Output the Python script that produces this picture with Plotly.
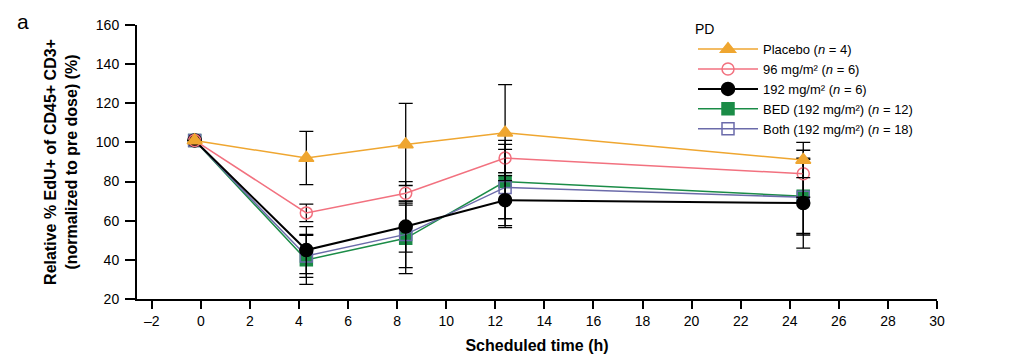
import plotly.graph_objects as go

# Data
time_h = [-0.25, 4.3, 8.35, 12.4, 24.55]
placebo = [101, 92, 99, 105, 91]
placebo_err = [0, 13.6, 21, 24.5, 9]
dose96 = [101, 64, 74, 92, 84]
dose96_err = [0, 4.5, 6, 9, 12]
dose192 = [101, 45, 57, 70.5, 69]
dose192_err = [0, 12, 13, 14, 23]
bed = [101, 40, 51, 80, 72.5]
bed_err = [0, 12.5, 18, 19, 19]
both = [101, 42, 53, 77, 72]
both_err = [0, 11, 17, 19.5, 19.3]

x_ticks = list(range(-2, 31, 2))
x_tick_labels = [("\u2013" + str(-v)) if v < 0 else str(v) for v in x_ticks]
y_ticks = list(range(20, 161, 20))

FONT = "Liberation Sans, Arial, sans-serif"

series = [
    # name, y, err, color, symbol, line width, marker size, rank
    ("BED (192 mg/m²) (<i>n</i> = 12)", bed, bed_err, "#1B8C47", "square", 1.5, 12, 4),
    ("Both (192 mg/m²) (<i>n</i> = 18)", both, both_err, "#6B6BAA", "square-open", 1.5, 12, 5),
    ("192 mg/m² (<i>n</i> = 6)", dose192, dose192_err, "#000000", "circle", 2, 13, 3),
    ("96 mg/m² (<i>n</i> = 6)", dose96, dose96_err, "#F2717F", "circle-open", 1.5, 12, 2),
    ("Placebo (<i>n</i> = 4)", placebo, placebo_err, "#EFA630", "triangle-up", 1.5, 13, 1),
]

fig = go.Figure()
for name, y, err, color, symbol, lw, ms, rank in series:
    fig.add_trace(go.Scatter(
        x=time_h, y=y, name=name, mode="lines+markers",
        line=dict(color=color, width=lw),
        marker=dict(symbol=symbol, size=ms, color=color,
                    line=dict(color=color, width=1.5)),
        error_y=dict(type="data", array=err, visible=True, color="black",
                     thickness=1.3, width=7),
        legendrank=rank,
    ))

fig.update_layout(
    width=1021, height=358,
    margin=dict(l=129, r=92, t=17, b=67, autoexpand=False),
    plot_bgcolor="white", paper_bgcolor="white",
    font=dict(family=FONT, size=14, color="black"),
    showlegend=True,
    legend=dict(
        x=0.695, y=1.033, xanchor="left", yanchor="top",
        title=dict(text="PD", font=dict(size=14)),
        font=dict(size=13), itemwidth=60,
        bgcolor="rgba(0,0,0,0)", tracegroupgap=0,
    ),
    xaxis=dict(
        range=[-2.6, 30], tickvals=x_ticks, ticktext=x_tick_labels,
        showgrid=False, zeroline=False, showline=True, linecolor="black",
        linewidth=2, ticks="outside", ticklen=8, tickwidth=1.5, tickcolor="black",
        automargin=False,
        tickfont=dict(family="Liberation Sans Narrow, Arial Narrow, Liberation Sans", size=14),
        title=dict(text="<b>Scheduled time (h)</b>", font=dict(size=16), standoff=12),
    ),
    yaxis=dict(
        range=[20, 160], tickvals=y_ticks,
        showgrid=False, zeroline=False, showline=True, linecolor="black",
        linewidth=2, ticks="outside", ticklen=10, tickwidth=1.5, tickcolor="black",
        automargin=False, ticklabelstandoff=3,
        tickfont=dict(size=14),
        title=dict(text="<b>Relative % EdU+ of CD45+ CD3+<br>(normalized to pre dose) (%)</b>",
                   font=dict(size=16), standoff=14),
    ),
)

fig.add_annotation(text="a", xref="paper", yref="paper", x=-0.152, y=1.062,
                   xanchor="left", yanchor="top", showarrow=False,
                   font=dict(size=21))

fig.write_html("out.html")
